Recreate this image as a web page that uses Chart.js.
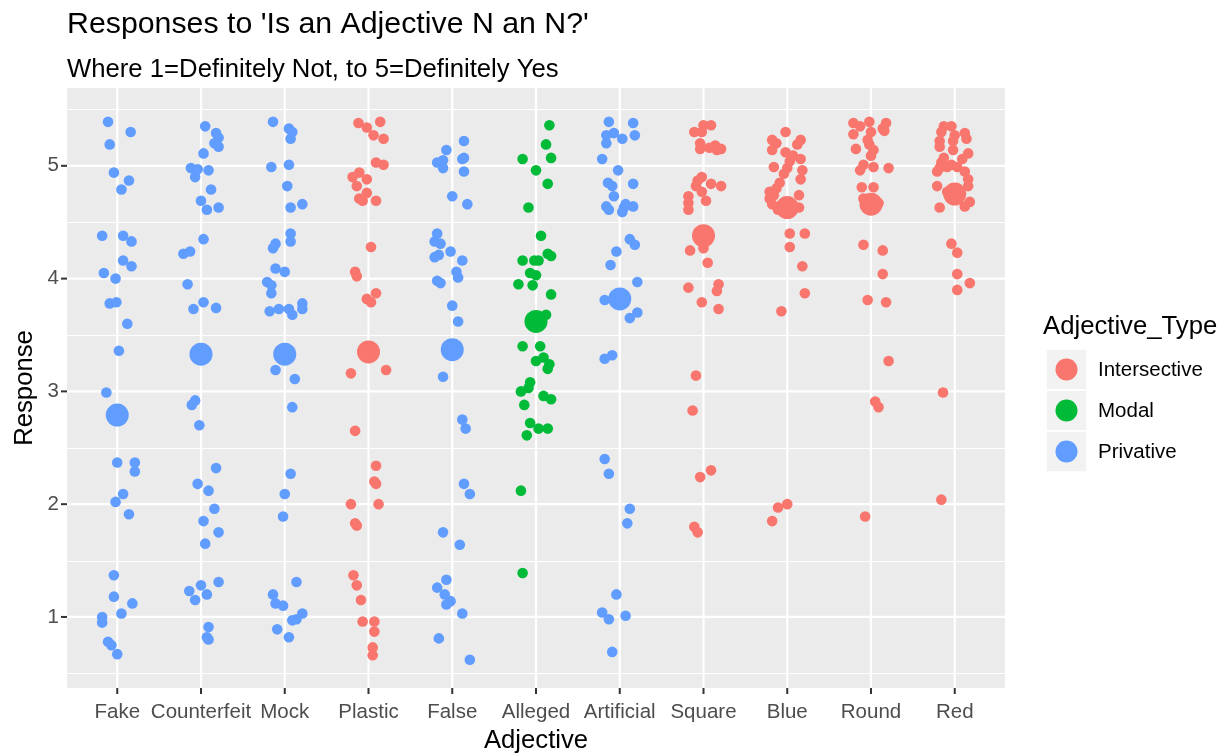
<!DOCTYPE html>
<html><head><meta charset="utf-8">
<script src="https://cdn.jsdelivr.net/npm/chart.js@4.4.0/dist/chart.umd.min.js"></script>
<style>html,body{margin:0;padding:0;background:#fff;}</style>
</head><body>
<canvas id="c" width="1231" height="754"></canvas>
<script>
const categories = ['Fake','Counterfeit','Mock','Plastic','False','Alleged','Artificial','Square','Blue','Round','Red'];
const adjTypes = ['Privative','Privative','Privative','Intersective','Privative','Modal','Privative','Intersective','Intersective','Intersective','Intersective'];
const typeNames = ['Intersective','Modal','Privative'];
const typeColors = ['#F8766D','#00BA38','#619CFF'];
const meanResponse = [2.79,3.33,3.33,3.35,3.37,3.62,3.82,4.38,4.63,4.66,4.75];
const yTicks = [1,2,3,4,5];

// jittered responses: [horizontal jitter, response]
const ptsFake = [[-0.11,5.39],[0.16,5.30],[-0.09,5.19],[-0.04,4.94],[0.14,4.87],[0.05,4.79],[-0.18,4.38],[0.07,4.38],[0.17,4.33],[0.07,4.16],[0.17,4.11],[-0.16,4.05],[-0.02,4.00],[-0.09,3.78],[-0.01,3.79],[0.12,3.60],[0.02,3.36],[-0.13,2.99],[0.00,2.37],[0.21,2.37],[0.21,2.29],[0.07,2.09],[-0.02,2.02],[0.14,1.91],[-0.04,1.37],[-0.04,1.18],[0.18,1.12],[0.05,1.03],[-0.18,1.00],[-0.18,0.95],[-0.11,0.78],[-0.07,0.75],[0.00,0.67]];
const ptsCounterfeit = [[0.05,5.35],[0.18,5.29],[0.21,5.25],[0.16,5.20],[0.21,5.17],[0.03,5.11],[-0.12,4.98],[-0.04,4.97],[0.09,4.96],[-0.07,4.90],[0.12,4.79],[0.00,4.69],[0.07,4.61],[0.21,4.63],[0.03,4.35],[-0.21,4.22],[-0.13,4.24],[-0.16,3.95],[0.03,3.79],[-0.09,3.73],[0.18,3.74],[-0.07,2.92],[-0.11,2.88],[-0.02,2.70],[0.18,2.32],[-0.04,2.18],[0.09,2.12],[0.16,1.96],[0.03,1.85],[0.21,1.75],[0.05,1.65],[0.21,1.31],[0.00,1.28],[-0.14,1.23],[0.07,1.20],[-0.07,1.15],[0.09,0.91],[0.07,0.82],[0.09,0.80]];
const ptsMock = [[-0.14,5.39],[0.05,5.33],[0.09,5.30],[0.07,5.24],[-0.16,4.99],[0.05,5.01],[0.03,4.82],[0.21,4.66],[0.07,4.63],[0.07,4.40],[0.07,4.33],[-0.11,4.31],[-0.14,4.27],[-0.11,4.09],[0.00,4.06],[-0.21,3.97],[-0.16,3.94],[-0.16,3.87],[-0.18,3.71],[-0.07,3.73],[0.05,3.73],[0.21,3.78],[0.21,3.73],[0.09,3.68],[-0.11,3.19],[0.12,3.11],[0.09,2.86],[0.07,2.27],[0.00,2.09],[-0.02,1.89],[0.14,1.31],[-0.14,1.20],[-0.11,1.12],[-0.02,1.10],[0.21,1.03],[0.14,0.98],[0.09,0.97],[-0.09,0.89],[0.05,0.82]];
const ptsPlastic = [[0.14,5.39],[-0.12,5.38],[-0.02,5.34],[0.06,5.27],[0.18,5.24],[0.09,5.03],[0.18,5.01],[-0.11,4.94],[-0.19,4.90],[-0.02,4.88],[-0.14,4.82],[-0.02,4.76],[-0.11,4.71],[-0.07,4.69],[0.09,4.69],[0.03,4.28],[-0.16,4.06],[-0.14,4.02],[0.09,3.87],[-0.02,3.82],[0.03,3.79],[-0.21,3.16],[0.21,3.19],[-0.16,2.65],[0.09,2.34],[0.07,2.20],[0.09,2.18],[-0.21,2.00],[0.12,2.00],[-0.16,1.83],[-0.14,1.81],[-0.18,1.37],[-0.14,1.28],[-0.09,1.15],[-0.07,0.96],[0.07,0.96],[0.07,0.87],[0.05,0.73],[0.05,0.66]];
const ptsFalse = [[0.14,5.22],[-0.07,5.14],[-0.11,5.05],[-0.18,5.03],[0.14,5.07],[0.12,5.06],[-0.11,4.98],[0.14,4.95],[0.00,4.73],[0.18,4.66],[-0.18,4.40],[-0.21,4.33],[-0.14,4.31],[-0.21,4.19],[-0.16,4.21],[-0.02,4.24],[0.12,4.16],[0.05,4.06],[0.07,4.01],[-0.18,3.98],[-0.14,3.96],[0.00,3.76],[0.07,3.62],[-0.11,3.13],[0.12,2.75],[0.16,2.67],[0.14,2.18],[0.21,2.09],[-0.11,1.75],[0.09,1.64],[-0.07,1.33],[-0.18,1.26],[-0.09,1.20],[-0.02,1.14],[-0.07,1.11],[0.12,1.03],[-0.16,0.81],[0.21,0.62]];
const ptsAlleged = [[0.16,5.36],[0.12,5.19],[0.18,5.07],[-0.16,5.06],[0.00,4.96],[0.14,4.84],[-0.09,4.63],[0.06,4.38],[0.14,4.22],[0.18,4.20],[-0.16,4.16],[-0.02,4.16],[0.03,4.16],[-0.07,4.05],[0.00,4.03],[-0.21,3.95],[-0.04,3.94],[0.18,3.86],[0.12,3.68],[-0.16,3.40],[0.05,3.40],[0.09,3.30],[0.00,3.27],[0.16,3.24],[0.14,3.20],[-0.07,3.08],[-0.09,3.03],[-0.18,3.00],[0.09,2.96],[0.18,2.93],[-0.14,2.88],[-0.07,2.72],[0.03,2.67],[0.14,2.67],[-0.11,2.61],[-0.18,2.12],[-0.16,1.39]];
const ptsArtificial = [[-0.13,5.39],[0.16,5.38],[-0.16,5.27],[-0.07,5.29],[0.03,5.24],[0.18,5.27],[-0.16,5.20],[-0.21,5.06],[-0.02,4.96],[-0.14,4.85],[-0.09,4.82],[0.16,4.84],[-0.07,4.73],[-0.16,4.64],[-0.13,4.61],[0.05,4.63],[0.07,4.66],[0.16,4.64],[0.03,4.59],[0.12,4.35],[0.18,4.30],[-0.04,4.24],[-0.11,4.12],[0.21,3.97],[-0.18,3.81],[0.21,3.70],[0.12,3.65],[-0.09,3.32],[-0.18,3.29],[-0.18,2.40],[-0.13,2.27],[0.12,1.96],[0.09,1.83],[-0.04,1.20],[-0.21,1.04],[-0.13,0.98],[0.07,1.01],[-0.09,0.69]];
const ptsSquare = [[0.00,5.36],[0.09,5.36],[-0.11,5.30],[-0.02,5.30],[-0.04,5.20],[-0.04,5.15],[0.07,5.16],[0.14,5.18],[0.21,5.15],[0.16,5.14],[-0.02,4.90],[-0.07,4.87],[0.09,4.84],[0.21,4.82],[-0.09,4.82],[-0.02,4.77],[-0.18,4.73],[-0.18,4.67],[-0.18,4.61],[0.03,4.69],[-0.16,4.25],[0.00,4.27],[0.05,4.14],[-0.18,3.92],[0.18,3.95],[0.16,3.89],[-0.02,3.79],[0.18,3.73],[-0.09,3.14],[-0.13,2.83],[0.09,2.30],[-0.04,2.24],[-0.11,1.80],[-0.07,1.75]];
const ptsBlue = [[-0.02,5.30],[-0.18,5.23],[0.16,5.23],[-0.13,5.20],[0.12,5.19],[-0.18,5.14],[-0.02,5.12],[0.07,5.09],[0.16,5.06],[0.03,5.04],[-0.16,4.99],[0.00,4.98],[0.18,4.96],[-0.04,4.93],[0.16,4.88],[-0.09,4.85],[-0.13,4.80],[-0.21,4.77],[0.14,4.74],[-0.21,4.71],[-0.18,4.66],[-0.11,4.61],[-0.04,4.59],[0.07,4.61],[0.14,4.63],[-0.16,4.74],[0.03,4.40],[0.21,4.40],[0.03,4.28],[0.18,4.11],[0.21,3.87],[-0.07,3.71],[0.00,2.00],[-0.11,1.97],[-0.18,1.85]];
const ptsRound = [[-0.21,5.38],[-0.02,5.39],[0.18,5.38],[0.14,5.33],[-0.13,5.35],[-0.21,5.28],[0.00,5.30],[0.16,5.31],[-0.04,5.23],[-0.02,5.19],[-0.18,5.15],[0.03,5.14],[0.00,5.09],[-0.09,5.01],[0.03,4.99],[0.21,4.98],[-0.13,4.96],[-0.11,4.81],[0.03,4.81],[0.09,4.67],[-0.09,4.71],[-0.09,4.30],[0.14,4.25],[0.14,4.04],[-0.04,3.81],[0.18,3.79],[0.21,3.27],[0.05,2.91],[0.09,2.86],[-0.07,1.89]];
const ptsRed = [[-0.13,5.35],[-0.04,5.35],[-0.16,5.30],[0.12,5.29],[0.00,5.27],[0.14,5.24],[-0.18,5.22],[-0.02,5.22],[-0.18,5.17],[-0.02,5.14],[0.16,5.11],[-0.13,5.07],[0.09,5.06],[-0.16,5.03],[-0.04,5.01],[-0.09,4.99],[-0.18,4.98],[0.03,4.99],[0.12,4.95],[-0.21,4.95],[0.16,4.88],[0.16,4.82],[-0.21,4.82],[-0.09,4.77],[0.03,4.80],[0.18,4.68],[0.12,4.64],[-0.18,4.63],[-0.04,4.31],[0.03,4.23],[0.03,4.04],[0.18,3.96],[0.03,3.90],[-0.14,2.99],[-0.16,2.04]];

const pointSets = [ptsFake,ptsCounterfeit,ptsMock,ptsPlastic,ptsFalse,ptsAlleged,ptsArtificial,ptsSquare,ptsBlue,ptsRound,ptsRed];

const FONT = '"Liberation Sans", Arial, sans-serif';

const datasets = [];
typeNames.forEach((t, ti) => {
  const data = [];
  pointSets.forEach((pts, ci) => {
    if (adjTypes[ci] !== t) return;
    pts.forEach(p => data.push({x: ci + 1 + p[0], y: p[1]}));
  });
  datasets.push({label: t, data, backgroundColor: typeColors[ti], borderWidth: 0, pointRadius: 5.3, pointHoverRadius: 5.3, order: 2});
});
typeNames.forEach((t, ti) => {
  const data = [];
  categories.forEach((c, ci) => { if (adjTypes[ci] === t) data.push({x: ci + 1, y: meanResponse[ci]}); });
  datasets.push({label: t + ' mean', data, backgroundColor: typeColors[ti], borderWidth: 0, pointRadius: 11.5, pointHoverRadius: 11.5, order: 1});
});

const ggPanel = {
  id: 'ggPanel',
  beforeDraw(chart) {
    const {ctx, chartArea: a, scales: {x, y}} = chart;
    ctx.save();
    ctx.fillStyle = '#FFFFFF';
    ctx.fillRect(0, 0, chart.width, chart.height);
    ctx.fillStyle = '#EBEBEB';
    ctx.fillRect(a.left, a.top, a.right - a.left, a.bottom - a.top);
    ctx.strokeStyle = '#FFFFFF';
    ctx.lineWidth = 1.1;
    for (let v = 0.5; v <= 5.5; v += 1) {
      const py = Math.round(y.getPixelForValue(v)) + 0.5;
      ctx.beginPath(); ctx.moveTo(a.left, py); ctx.lineTo(a.right, py); ctx.stroke();
    }
    ctx.lineWidth = 2.2;
    yTicks.forEach(v => {
      const py = y.getPixelForValue(v);
      ctx.beginPath(); ctx.moveTo(a.left, py); ctx.lineTo(a.right, py); ctx.stroke();
    });
    categories.forEach((c, i) => {
      const px = x.getPixelForValue(i + 1);
      ctx.beginPath(); ctx.moveTo(px, a.top); ctx.lineTo(px, a.bottom); ctx.stroke();
    });
    // tick marks
    ctx.strokeStyle = '#333333';
    ctx.lineWidth = 2;
    yTicks.forEach(v => {
      const py = y.getPixelForValue(v);
      ctx.beginPath(); ctx.moveTo(a.left - 6, py); ctx.lineTo(a.left, py); ctx.stroke();
    });
    categories.forEach((c, i) => {
      const px = x.getPixelForValue(i + 1);
      ctx.beginPath(); ctx.moveTo(px, a.bottom); ctx.lineTo(px, a.bottom + 6); ctx.stroke();
    });
    ctx.restore();
  },
  afterDraw(chart) {
    const {ctx} = chart;
    ctx.save();
    ctx.fillStyle = '#000000';
    ctx.textAlign = 'left';
    ctx.textBaseline = 'alphabetic';
    ctx.font = '30.3px ' + FONT;
    ctx.fillText("Responses to 'Is an Adjective N an N?'", 67, 33);
    ctx.font = '25.7px ' + FONT;
    ctx.fillText('Where 1=Definitely Not, to 5=Definitely Yes', 67, 77);
    // legend
    ctx.fillText('Adjective_Type', 1043, 334);
    const keyX = 1046, keyS = 41, keyTop = 349;
    typeNames.forEach((t, i) => {
      const ky = keyTop + i * keyS;
      ctx.fillStyle = '#F2F2F2';
      ctx.fillRect(keyX, ky, keyS, keyS);
      ctx.strokeStyle = '#FFFFFF';
      ctx.lineWidth = 1.5;
      ctx.strokeRect(keyX, ky, keyS, keyS);
      ctx.fillStyle = typeColors[i];
      ctx.beginPath(); ctx.arc(keyX + keyS / 2, ky + keyS / 2, 11, 0, Math.PI * 2); ctx.fill();
      ctx.fillStyle = '#000000';
      ctx.font = '20.5px ' + FONT;
      ctx.textBaseline = 'middle';
      ctx.fillText(t, 1098, ky + keyS / 2 + 1);
      ctx.textBaseline = 'alphabetic';
    });
    ctx.restore();
  }
};

new Chart(document.getElementById('c'), {
  type: 'scatter',
  data: {datasets},
  plugins: [ggPanel],
  options: {
    responsive: false,
    animation: false,
    devicePixelRatio: 1,
    layout: {padding: {top: 88, right: 226, bottom: 0, left: 0}},
    plugins: {legend: {display: false}, title: {display: false}, tooltip: {enabled: false}},
    scales: {
      x: {
        type: 'linear', min: 0.4, max: 11.6,
        afterBuildTicks: s => { s.ticks = categories.map((c, i) => ({value: i + 1})); },
        afterFit: s => { s.height = 66; },
        grid: {display: false, drawTicks: false}, border: {display: false},
        ticks: {autoSkip: false, maxRotation: 0, minRotation: 0, padding: 12, color: '#4D4D4D',
          font: {family: FONT, size: 20.5},
          callback: v => categories[Math.round(v) - 1]},
        title: {display: true, text: 'Adjective', color: '#000000', font: {family: FONT, size: 25.7, lineHeight: 1.0}, padding: {top: 0, bottom: 0}}
      },
      y: {
        type: 'linear', min: 0.37, max: 5.69,
        afterBuildTicks: s => { s.ticks = yTicks.map(v => ({value: v})); },
        afterFit: s => { s.width = 67; },
        grid: {display: false, drawTicks: false}, border: {display: false},
        ticks: {padding: 8, color: '#4D4D4D', font: {family: FONT, size: 20.5}, callback: v => String(v)},
        title: {display: true, text: 'Response', color: '#000000', font: {family: FONT, size: 25.7, lineHeight: 1.0}, padding: {top: 12, bottom: 0}}
      }
    }
  }
});
</script>
</body></html>
